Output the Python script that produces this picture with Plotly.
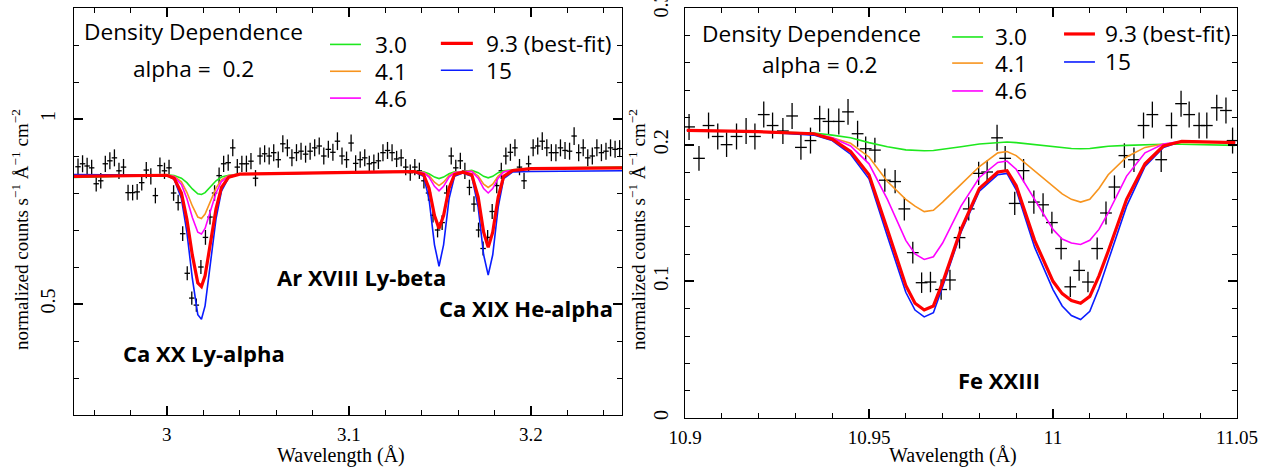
import plotly.graph_objects as go

# ---------------- Left panel: Ca XX / Ar XVIII / Ca XIX ----------------
left_wave = [
    2.9512, 2.9537, 2.9562, 2.9587, 2.9612, 2.9637, 2.9662, 2.9687, 2.9712, 2.9737,
    2.9762, 2.9787, 2.9812, 2.9837, 2.9862, 2.9887, 2.9912, 2.9937, 2.9962, 2.9987,
    3.0012, 3.0037, 3.0062, 3.0087, 3.0112, 3.0137, 3.0162, 3.0187, 3.0212, 3.0237,
    3.0262, 3.0287, 3.0312, 3.0337, 3.0362, 3.0387, 3.0412, 3.0437, 3.0462, 3.0487,
    3.0512, 3.0537, 3.0562, 3.0587, 3.0612, 3.0637, 3.0662, 3.0687, 3.0712, 3.0737,
    3.0762, 3.0787, 3.0812, 3.0837, 3.0862, 3.0887, 3.0912, 3.0937, 3.0962, 3.0987,
    3.1012, 3.1037, 3.1062, 3.1087, 3.1112, 3.1137, 3.1162, 3.1187, 3.1212, 3.1237,
    3.1262, 3.1287, 3.1312, 3.1337, 3.1362, 3.1387, 3.1412, 3.1437, 3.1462, 3.1487,
    3.1512, 3.1537, 3.1562, 3.1587, 3.1612, 3.1637, 3.1662, 3.1687, 3.1712, 3.1737,
    3.1762, 3.1787, 3.1812, 3.1837, 3.1862, 3.1887, 3.1912, 3.1937, 3.1962, 3.1987,
    3.2012, 3.2037, 3.2062, 3.2087, 3.2112, 3.2137, 3.2162, 3.2187, 3.2212, 3.2237,
    3.2262, 3.2287, 3.2312, 3.2337, 3.2362, 3.2387, 3.2412, 3.2437, 3.2462, 3.2487,
]
left_flux = [
    0.871, 0.879, 0.873, 0.868, 0.825, 0.833, 0.879, 0.887, 0.895, 0.860,
    0.870, 0.801, 0.801, 0.803, 0.828, 0.862, 0.845, 0.793, 0.874, 0.860,
    0.868, 0.800, 0.774, 0.690, 0.583, 0.516, 0.497, 0.600, 0.680, 0.735,
    0.800, 0.847, 0.879, 0.882, 0.922, 0.870, 0.879, 0.879, 0.886, 0.840,
    0.900, 0.906, 0.900, 0.909, 0.890, 0.933, 0.922, 0.895, 0.909, 0.913,
    0.905, 0.913, 0.922, 0.927, 0.900, 0.918, 0.910, 0.940, 0.900, 0.890,
    0.935, 0.880, 0.890, 0.895, 0.879, 0.882, 0.887, 0.909, 0.915, 0.909,
    0.892, 0.895, 0.870, 0.855, 0.870, 0.860, 0.833, 0.800, 0.740, 0.700,
    0.720, 0.800, 0.900, 0.868, 0.887, 0.860, 0.815, 0.770, 0.700, 0.650,
    0.680, 0.750, 0.820, 0.860, 0.900, 0.910, 0.922, 0.870, 0.833, 0.879,
    0.922, 0.927, 0.940, 0.922, 0.909, 0.909, 0.922, 0.915, 0.913, 0.954,
    0.909, 0.922, 0.895, 0.900, 0.922, 0.909, 0.913, 0.922, 0.918, 0.920,
]
left_err = [
    0.022, 0.023, 0.022, 0.022, 0.021, 0.021, 0.022, 0.023, 0.023, 0.022,
    0.022, 0.021, 0.021, 0.021, 0.021, 0.022, 0.022, 0.021, 0.022, 0.022,
    0.022, 0.021, 0.021, 0.020, 0.019, 0.018, 0.018, 0.019, 0.020, 0.020,
    0.021, 0.022, 0.022, 0.022, 0.023, 0.022, 0.022, 0.022, 0.022, 0.022,
    0.023, 0.023, 0.023, 0.023, 0.022, 0.023, 0.023, 0.023, 0.023, 0.023,
    0.023, 0.023, 0.023, 0.023, 0.023, 0.023, 0.023, 0.024, 0.023, 0.022,
    0.023, 0.022, 0.022, 0.023, 0.022, 0.022, 0.022, 0.023, 0.023, 0.023,
    0.022, 0.023, 0.022, 0.022, 0.022, 0.022, 0.021, 0.021, 0.020, 0.020,
    0.020, 0.021, 0.023, 0.022, 0.022, 0.022, 0.021, 0.021, 0.020, 0.019,
    0.020, 0.020, 0.021, 0.022, 0.023, 0.023, 0.023, 0.022, 0.022, 0.022,
    0.023, 0.023, 0.024, 0.023, 0.023, 0.023, 0.023, 0.023, 0.023, 0.024,
    0.023, 0.023, 0.023, 0.023, 0.023, 0.023, 0.023, 0.023, 0.023, 0.023,
]
left_bin_half = 0.0015

left_model_wave = [
    2.949, 2.99,
    3.000, 3.004, 3.008, 3.011, 3.014, 3.017, 3.019, 3.021, 3.024, 3.027, 3.030, 3.034, 3.040,
    3.08, 3.12,
    3.136, 3.141, 3.144, 3.147, 3.1495, 3.152, 3.155, 3.158, 3.1625,
    3.1675, 3.171, 3.174, 3.1765, 3.179, 3.182, 3.185, 3.190,
    3.20, 3.25,
]
left_model_30 = [
    0.842, 0.847,
    0.849, 0.847, 0.840, 0.828, 0.811, 0.798, 0.796, 0.801, 0.817, 0.833, 0.843, 0.848, 0.851,
    0.855, 0.857,
    0.858, 0.857, 0.852, 0.843, 0.839, 0.843, 0.852, 0.857, 0.858,
    0.861, 0.855, 0.845, 0.841, 0.845, 0.855, 0.860, 0.863,
    0.867, 0.870,
]
left_model_41 = [
    0.845, 0.848,
    0.849, 0.845, 0.830, 0.802, 0.765, 0.735, 0.731, 0.743, 0.777, 0.813, 0.836, 0.847, 0.851,
    0.855, 0.857,
    0.858, 0.856, 0.847, 0.829, 0.820, 0.829, 0.847, 0.856, 0.858,
    0.859, 0.846, 0.824, 0.815, 0.824, 0.846, 0.858, 0.862,
    0.866, 0.868,
]
left_model_46 = [
    0.846, 0.848,
    0.848, 0.844, 0.823, 0.785, 0.734, 0.694, 0.689, 0.704, 0.751, 0.800, 0.831, 0.846, 0.851,
    0.855, 0.857,
    0.858, 0.855, 0.843, 0.818, 0.806, 0.818, 0.843, 0.855, 0.858,
    0.858, 0.840, 0.812, 0.800, 0.812, 0.840, 0.857, 0.862,
    0.866, 0.868,
]
left_model_93 = [
    0.845, 0.848,
    0.848, 0.840, 0.800, 0.729, 0.632, 0.557, 0.547, 0.576, 0.665, 0.757, 0.815, 0.843, 0.851,
    0.855, 0.857,
    0.858, 0.850, 0.813, 0.739, 0.704, 0.739, 0.813, 0.850, 0.856,
    0.849, 0.789, 0.694, 0.653, 0.694, 0.789, 0.845, 0.861,
    0.866, 0.868,
]
left_model_15 = [
    0.850, 0.849,
    0.848, 0.837, 0.785, 0.694, 0.569, 0.471, 0.459, 0.495, 0.611, 0.730, 0.805, 0.842, 0.851,
    0.854, 0.856,
    0.857, 0.845, 0.784, 0.660, 0.602, 0.660, 0.784, 0.845, 0.854,
    0.845, 0.762, 0.633, 0.578, 0.633, 0.762, 0.839, 0.857,
    0.858, 0.860,
]

# ---------------- Right panel: Fe XXIII ----------------
right_wave = [
    10.9011, 10.9038, 10.9064, 10.9089, 10.9113, 10.9140, 10.9166, 10.9190, 10.9214, 10.9238,
    10.9266, 10.9291, 10.9315, 10.9341, 10.9366, 10.9390, 10.9418, 10.9443, 10.9469, 10.9491,
    10.9516, 10.9543, 10.9571, 10.9596, 10.9619, 10.9643, 10.9667, 10.9696, 10.9720, 10.9746,
    10.9771, 10.9798, 10.9821, 10.9848, 10.9870, 10.9896, 10.9920, 10.9948, 10.9973, 10.9997,
    11.0022, 11.0047, 11.0071, 11.0095, 11.0120, 11.0144, 11.0167, 11.0194, 11.0220, 11.0246,
    11.0270, 11.0294, 11.0322, 11.0348, 11.0370, 11.0397, 11.0418, 11.0445, 11.0470, 11.0488,
]
right_flux = [
    0.213, 0.190, 0.214, 0.206, 0.200, 0.206, 0.210, 0.206, 0.222, 0.214,
    0.210, 0.221, 0.198, 0.203, 0.219, 0.217, 0.217, 0.224, 0.208, 0.197,
    0.196, 0.174, 0.173, 0.153, 0.121, 0.099, 0.0995, 0.094, 0.101, 0.132,
    0.153, 0.179, 0.180, 0.205, 0.190, 0.157, 0.181, 0.158, 0.156, 0.143,
    0.124, 0.096, 0.108, 0.0995, 0.124, 0.150, 0.169, 0.192, 0.189, 0.214,
    0.222, 0.189, 0.214, 0.230, 0.222, 0.214, 0.214, 0.227, 0.225, 0.203,
]
right_err = [
    0.0095, 0.0090, 0.0095, 0.0095, 0.0090, 0.0095, 0.0095, 0.0095, 0.0095, 0.0095,
    0.0095, 0.0095, 0.0090, 0.0095, 0.0095, 0.0095, 0.0095, 0.0095, 0.0095, 0.0090,
    0.0090, 0.0085, 0.0085, 0.0085, 0.0080, 0.0075, 0.0075, 0.0075, 0.0075, 0.0080,
    0.0085, 0.0085, 0.0085, 0.0095, 0.0090, 0.0085, 0.0085, 0.0085, 0.0085, 0.0080,
    0.0080, 0.0075, 0.0075, 0.0075, 0.0080, 0.0085, 0.0085, 0.0090, 0.0090, 0.0095,
    0.0095, 0.0090, 0.0095, 0.0095, 0.0095, 0.0095, 0.0095, 0.0095, 0.0095, 0.0095,
]
right_bin_half = 0.0016

right_model_wave = [
    10.9005, 10.92, 10.935, 10.94, 10.945, 10.95, 10.955, 10.96, 10.9625, 10.965,
    10.9675, 10.97, 10.975, 10.98, 10.985, 10.9875, 10.99, 10.995, 11.0, 11.0025,
    11.005, 11.0075, 11.01, 11.0125, 11.015, 11.02, 11.025, 11.03, 11.035, 11.0495,
]
right_model_30 = [
    0.2105, 0.2095, 0.2085, 0.207, 0.205, 0.2015, 0.1985, 0.1962, 0.1957, 0.1955,
    0.1957, 0.1965, 0.1985, 0.2005, 0.2018, 0.2020, 0.2015, 0.2000, 0.1985, 0.1978,
    0.1972, 0.1970, 0.1972, 0.1980, 0.1988, 0.1995, 0.2000, 0.2003, 0.2003, 0.1995,
]
right_model_41 = [
    0.2105, 0.2095, 0.2075, 0.205, 0.201, 0.191, 0.173, 0.160, 0.155, 0.151,
    0.152, 0.158, 0.171, 0.184, 0.194, 0.195, 0.192, 0.181, 0.170, 0.164,
    0.160, 0.158, 0.160, 0.168, 0.178, 0.191, 0.198, 0.2005, 0.2015, 0.2015,
]
right_model_46 = [
    0.2105, 0.2095, 0.208, 0.205, 0.199, 0.186, 0.160, 0.130, 0.120, 0.116,
    0.118, 0.128, 0.155, 0.176, 0.187, 0.188, 0.182, 0.160, 0.138, 0.131,
    0.128, 0.127, 0.130, 0.138, 0.150, 0.177, 0.194, 0.2005, 0.2025, 0.2015,
]
right_model_93 = [
    0.2105, 0.2095, 0.208, 0.204, 0.195, 0.178, 0.138, 0.097, 0.084, 0.079,
    0.082, 0.099, 0.138, 0.168, 0.180, 0.181, 0.170, 0.130, 0.100, 0.091,
    0.086, 0.084, 0.089, 0.104, 0.122, 0.160, 0.186, 0.199, 0.2025, 0.2015,
]
right_model_15 = [
    0.2105, 0.2095, 0.207, 0.203, 0.193, 0.175, 0.133, 0.092, 0.079, 0.074,
    0.077, 0.096, 0.136, 0.166, 0.178, 0.179, 0.167, 0.125, 0.094, 0.082,
    0.075, 0.072, 0.078, 0.095, 0.115, 0.155, 0.184, 0.198, 0.2025, 0.2015,
]

density_labels = ["3.0", "4.1", "4.6", "9.3 (best-fit)", "15"]
density_colors = ["#1ee81e", "#f7941e", "#ff00ff", "#ff0000", "#0a1cff"]
density_widths = [1.6, 1.6, 1.6, 3.2, 1.6]

x_tick_left = [3.0, 3.1, 3.2]
y_tick_left = [0.5, 1.0]
x_tick_right = [10.9, 10.95, 11.0, 11.05]
y_tick_right = [0.0, 0.1, 0.2, 0.3]

SERIF = "Liberation Serif"
SANS = "Open Sans"

fig = go.Figure()

def add_data(x, y, err, half, xa, ya):
    fig.add_trace(go.Scatter(
        x=x, y=y, mode="markers", xaxis=xa, yaxis=ya,
        marker=dict(size=1, color="black"),
        error_y=dict(type="data", array=err, color="black", thickness=1.3, width=0),
        error_x=dict(type="constant", value=half, color="black", thickness=1.3, width=0),
        showlegend=False, hoverinfo="skip"))

def add_models(wave, models, xa, ya):
    # draw order: green, orange, magenta, blue, red (red on top)
    for idx in [0, 1, 2, 4, 3]:
        fig.add_trace(go.Scatter(
            x=wave, y=models[idx], mode="lines", xaxis=xa, yaxis=ya,
            line=dict(color=density_colors[idx], width=density_widths[idx]),
            showlegend=False, hoverinfo="skip"))

add_data(left_wave, left_flux, left_err, left_bin_half, "x", "y")
add_models(left_model_wave,
           [left_model_30, left_model_41, left_model_46, left_model_93, left_model_15], "x", "y")
add_data(right_wave, right_flux, right_err, right_bin_half, "x2", "y2")
add_models(right_model_wave,
           [right_model_30, right_model_41, right_model_46, right_model_93, right_model_15], "x2", "y2")

def axis(**kw):
    d = dict(showline=True, linecolor="black", linewidth=1.4, mirror="allticks",
             ticks="inside", ticklen=9, tickwidth=1.6, tickcolor="black",
             showgrid=False, zeroline=False, automargin=False, ticklabeloverflow="allow",
             showticklabels=True, layer="above traces",
             tickfont=dict(family=SERIF, size=19, color="black"))
    d.update(kw)
    return d

def minor(dt, t0):
    return dict(dtick=dt, tick0=t0, ticks="inside", ticklen=5, tickwidth=1.4,
                tickcolor="black", showgrid=False)

W, H = 1275, 471
mL, mR, mT, mB = 74, 38, 8, 53
pw = W - mL - mR
ph = H - mT - mB

ytickfont = dict(family=SERIF, size=20, color="black")

fig.update_layout(
    template="none",
    width=W, height=H,
    margin=dict(l=mL, r=mR, t=mT, b=mB, autoexpand=False),
    paper_bgcolor="white", plot_bgcolor="white",
    xaxis=axis(domain=[0, (622 - 74) / pw], range=[2.949, 3.25], anchor="y",
               tickmode="array", tickvals=x_tick_left, ticktext=["3", "3.1", "3.2"],
               minor=minor(0.02, 3.0), ticklabelstandoff=2),
    yaxis=axis(domain=[(418 - 415) / ph, 1], range=[0.2, 1.3], anchor="x",
               tickmode="array", tickvals=y_tick_left, ticktext=["0.5", "1"], tickangle=-90,
               tickfont=ytickfont, minor=minor(0.1, 0.0), ticklabelstandoff=10),
    xaxis2=axis(domain=[(685 - 74) / pw, 1], range=[10.9, 11.05], anchor="y2",
                tickmode="array", tickvals=x_tick_right, ticktext=["10.9", "10.95", "11", "11.05"],
                minor=minor(0.01, 10.9), ticklabelstandoff=2),
    yaxis2=axis(domain=[0, 1], range=[0, 0.3], anchor="x2",
                tickmode="array", tickvals=y_tick_right, ticktext=["0", "0.1", "0.2", "0.3"],
                tickangle=-90, tickfont=ytickfont, minor=minor(0.02, 0.0), ticklabelstandoff=8),
)

annotations = []
shapes = []

def px_to_paper_x(px):
    return (px - mL) / pw

def px_to_paper_y(py):
    return (H - mB - py) / ph

ytitle = "normalized counts s<sup>−1</sup> Å<sup>−1</sup> cm<sup>−2</sup>"
for px in [20, 637]:
    annotations.append(dict(xref="paper", yref="paper", x=px_to_paper_x(px), y=px_to_paper_y(230),
                            text=ytitle, textangle=-90, showarrow=False,
                            font=dict(family=SERIF, size=19, color="black"),
                            xanchor="center", yanchor="middle"))
for px in [341, 953]:
    annotations.append(dict(xref="paper", yref="paper", x=px_to_paper_x(px), y=px_to_paper_y(455),
                            text="Wavelength (Å)", showarrow=False,
                            font=dict(family=SERIF, size=20, color="black"),
                            xanchor="center", yanchor="middle"))

txtfont = dict(family=SANS, size=22.7, color="black")
boldfont = dict(family=SANS, size=22, color="black", weight="bold")

annotations += [
    dict(xref="x", yref="y", x=2.9533, y=1.2366, text="Density Dependence", showarrow=False,
         xanchor="left", yanchor="middle", font=txtfont),
    dict(xref="x", yref="y", x=2.9802, y=1.137, text="alpha =  0.2", showarrow=False,
         xanchor="left", yanchor="middle", font=txtfont),
]
left_leg = [
    (3.0896, 3.1066, 3.1132, 1.2016),
    (3.0896, 3.1066, 3.1132, 1.1290),
    (3.0896, 3.1066, 3.1132, 1.0565),
    (3.1505, 3.1681, 3.1742, 1.2043),
    (3.1505, 3.1681, 3.1742, 1.1317),
]
right_leg = [
    (10.9726, 10.9810, 10.9837, 0.2788),
    (10.9726, 10.9810, 10.9837, 0.2597),
    (10.9726, 10.9810, 10.9837, 0.2393),
    (11.0030, 11.0114, 11.0136, 0.2810),
    (11.0030, 11.0114, 11.0136, 0.2605),
]
for (leg, xr, yr) in [(left_leg, "x", "y"), (right_leg, "x2", "y2")]:
    for i, (x0, x1, xt, yv) in enumerate(leg):
        shapes.append(dict(type="line", xref=xr, yref=yr, x0=x0, x1=x1, y0=yv, y1=yv,
                           line=dict(color=density_colors[i], width=density_widths[i])))
        annotations.append(dict(xref=xr, yref=yr, x=xt, y=yv, text=density_labels[i],
                                showarrow=False, xanchor="left", yanchor="middle", font=txtfont))

annotations += [
    dict(xref="x2", yref="y2", x=10.9041, y=0.2817, text="Density Dependence", showarrow=False,
         xanchor="left", yanchor="middle", font=txtfont),
    dict(xref="x2", yref="y2", x=10.9204, y=0.2583, text="alpha = 0.2", showarrow=False,
         xanchor="left", yanchor="middle", font=txtfont),
    dict(xref="x", yref="y", x=3.0203, y=0.368, text="Ca XX Ly-alpha", showarrow=False,
         xanchor="center", yanchor="middle", font=boldfont),
    dict(xref="x", yref="y", x=3.1071, y=0.572, text="Ar XVIII Ly-beta", showarrow=False,
         xanchor="center", yanchor="middle", font=boldfont),
    dict(xref="x", yref="y", x=3.1970, y=0.489, text="Ca XIX He-alpha", showarrow=False,
         xanchor="center", yanchor="middle", font=boldfont),
    dict(xref="x2", yref="y2", x=10.9853, y=0.0278, text="Fe XXIII", showarrow=False,
         xanchor="center", yanchor="middle", font=boldfont),
]

fig.update_layout(annotations=annotations, shapes=shapes)
fig.write_html("out.html")
